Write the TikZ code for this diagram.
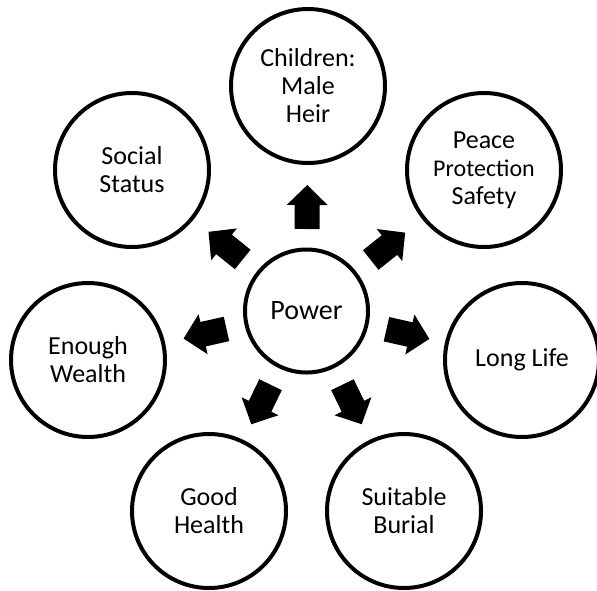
\documentclass[tikz,border=0pt]{standalone}
\usepackage{fontspec}
\setmainfont{Carlito}
\usetikzlibrary{calc}
\begin{document}
\begin{tikzpicture}[x=1pt,y=-1pt,
  ring/.style={circle,draw=black,line width=4pt,fill=white,inner sep=0pt,
    minimum size=154pt,align=center,font=\fontsize{26}{28}\selectfont},
  hub/.style={ring,minimum size=123pt,font=\fontsize{28}{30}\selectfont},
  blockarrow/.style={fill=black}]
\useasboundingbox (0,0) rectangle (597,590);
\node[hub] (pw) at (306.5,311) {Power};
\node[ring] (ch) at (308,86) {Children:\\Male\\Heir};
\node[ring] (ss) at (132,170) {Social\\Status};
\node[ring] (pp) at (484,170) {Peace\\{\fontsize{24}{28}\selectfont Protection}\\Safety};
\node[ring] (ew) at (88,360) {Enough\\Wealth};
\node[ring] (ll) at (522,360) {Long Life};
\node[ring] (gh) at (209,511) {Good\\Health};
\node[ring] (sb) at (404,511) {Suitable\\Burial};
\foreach \t in {ch,ss,pp,ew,ll,gh,sb} {
  \coordinate (b) at ($(pw.center)!82pt!(\t.center)$);
  \coordinate (h) at ($(pw.center)!106pt!(\t.center)$);
  \coordinate (e) at ($(pw.center)!126pt!(\t.center)$);
  \fill[blockarrow] ($(b)!12.5pt!90:(e)$) -- ($(h)!12.5pt!-90:(b)$)
    -- ($(h)!20.5pt!-90:(b)$) -- (e) -- ($(h)!20.5pt!90:(b)$)
    -- ($(h)!12.5pt!90:(b)$) -- ($(b)!12.5pt!-90:(e)$) -- cycle;
}
\end{tikzpicture}
\end{document}
